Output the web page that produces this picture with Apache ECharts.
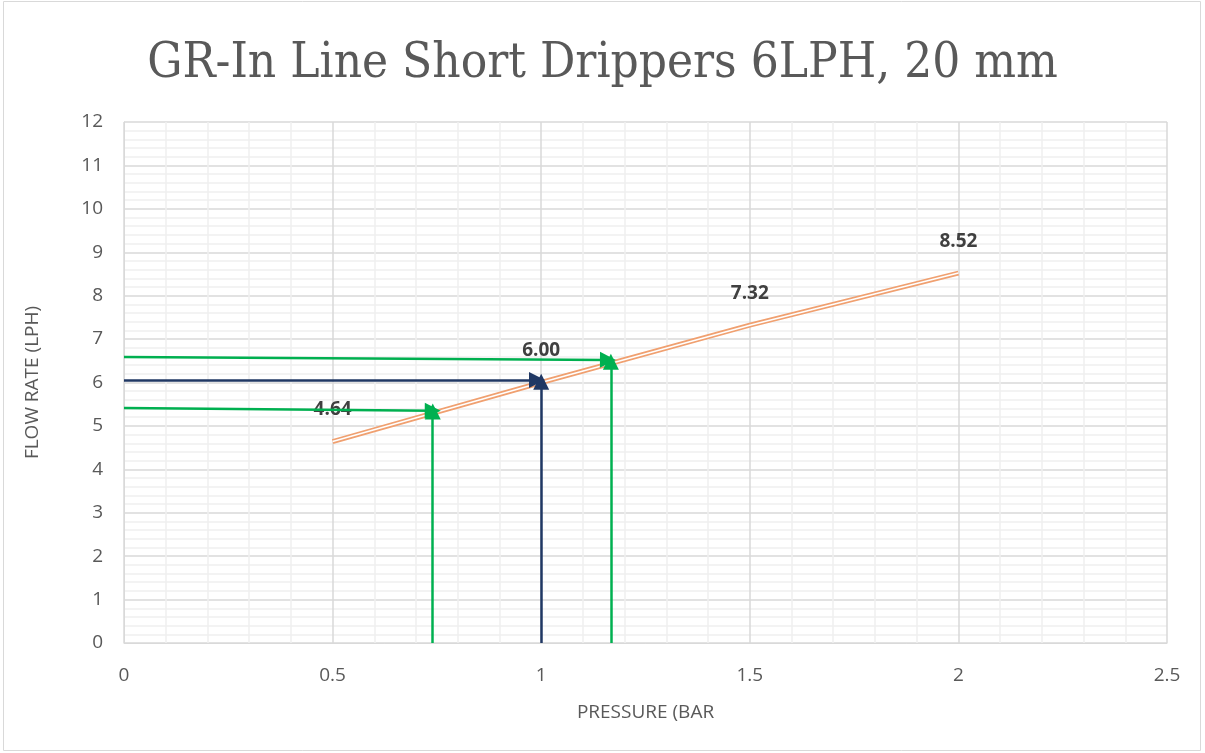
<!DOCTYPE html>
<html>
<head>
<meta charset="utf-8">
<script src="https://cdn.jsdelivr.net/npm/echarts@6/dist/echarts.min.js"></script>
<style>
  html, body { margin: 0; padding: 0; background: #fff; }
  #main { width: 1205px; height: 753px; }
</style>
</head>
<body>
<div id="main"></div>
<script>
// pressure (bar) / flow rate (LPH)
const pressure = [0.5, 1, 1.5, 2]
const flowRate = [4.64, 6.00, 7.32, 8.52]

// reading arrows: [x, y] start and [x, y] end
const greenArrows = [
  [[0, 6.59], [1.16, 6.52]],
  [[0, 5.41], [0.74, 5.35]],
  [[0.74, 0], [0.74, 5.33]],
  [[1.167, 0], [1.167, 6.48]]
]
const navyArrows = [
  [[0, 6.06], [0.99, 6.06]],
  [[1.0, 0], [1.0, 6.02]]
]

const chart = echarts.init(document.getElementById('main'))

const toMark = list => list.map(a => [{ coord: a[0] }, { coord: a[1] }])

chart.setOption({
  animation: false,
  title: {
    text: 'GR-In Line Short Drippers 6LPH, 20 mm',
    left: 'center',
    top: 35,
    textStyle: {
      fontFamily: 'DejaVu Serif Condensed',
      fontWeight: 'normal',
      fontSize: 49,
      color: '#595959'
    }
  },
  graphic: [{
    type: 'rect',
    shape: { x: 3.5, y: 1.5, width: 1197, height: 749 },
    style: { fill: 'none', stroke: '#d9d9d9', lineWidth: 1 },
    silent: true
  }],
  grid: { left: 124, right: 38, top: 122, bottom: 110 },
  xAxis: {
    type: 'value',
    min: 0,
    max: 2.5,
    interval: 0.5,
    name: 'PRESSURE (BAR',
    nameLocation: 'middle',
    nameGap: 60,
    nameTextStyle: { color: '#595959', fontSize: 19, fontFamily: 'Open Sans' },
    axisLine: { show: true, lineStyle: { color: '#d9d9d9' } },
    axisTick: { show: false },
    axisLabel: { color: '#595959', fontSize: 19, margin: 23, fontFamily: 'Open Sans' },
    splitLine: { show: true, lineStyle: { color: '#d9d9d9', width: 1.5 } },
    minorTick: { show: false, splitNumber: 5 },
    minorSplitLine: { show: true, lineStyle: { color: '#f0f0f0', width: 1.5 } }
  },
  yAxis: {
    type: 'value',
    min: 0,
    max: 12,
    interval: 1,
    name: 'FLOW RATE (LPH)',
    nameLocation: 'middle',
    nameGap: 82,
    nameTextStyle: { color: '#595959', fontSize: 19, fontFamily: 'Open Sans' },
    axisLine: { show: true, lineStyle: { color: '#d9d9d9' } },
    axisTick: { show: false },
    axisLabel: { color: '#595959', fontSize: 19, margin: 21, fontFamily: 'Open Sans' },
    splitLine: { show: true, lineStyle: { color: '#d9d9d9', width: 1.5 } },
    minorTick: { show: false, splitNumber: 5 },
    minorSplitLine: { show: true, lineStyle: { color: '#f0f0f0', width: 1.5 } }
  },
  series: [
    {
      // outer orange stroke
      type: 'line',
      data: pressure.map((p, i) => [p, flowRate[i]]),
      symbol: 'circle',
      symbolSize: 0,
      showSymbol: true,
      lineStyle: { color: '#f0a070', width: 5 },
      label: {
        show: true,
        position: 'top',
        distance: 22,
        color: '#404040',
        fontWeight: 'bold',
        fontSize: 19,
        fontFamily: 'Open Sans',
        formatter: p => p.value[1].toFixed(2)
      },
      labelLayout: { hideOverlap: false },
      z: 3
    },
    {
      // white core gives the double line
      type: 'line',
      data: pressure.map((p, i) => [p, flowRate[i]]),
      symbol: 'none',
      lineStyle: { color: '#ffffff', width: 1.5 },
      z: 4
    },
    {
      type: 'line',
      data: [],
      markLine: {
        silent: true,
        symbol: ['none', 'triangle'],
        symbolSize: [16, 16],
        label: { show: false },
        lineStyle: { color: '#00b050', width: 2.5, type: 'solid' },
        data: toMark(greenArrows)
      },
      z: 5
    },
    {
      type: 'line',
      data: [],
      markLine: {
        silent: true,
        symbol: ['none', 'triangle'],
        symbolSize: [16, 16],
        label: { show: false },
        lineStyle: { color: '#203864', width: 2.5, type: 'solid' },
        data: toMark(navyArrows)
      },
      z: 5
    }
  ]
})
</script>
</body>
</html>
